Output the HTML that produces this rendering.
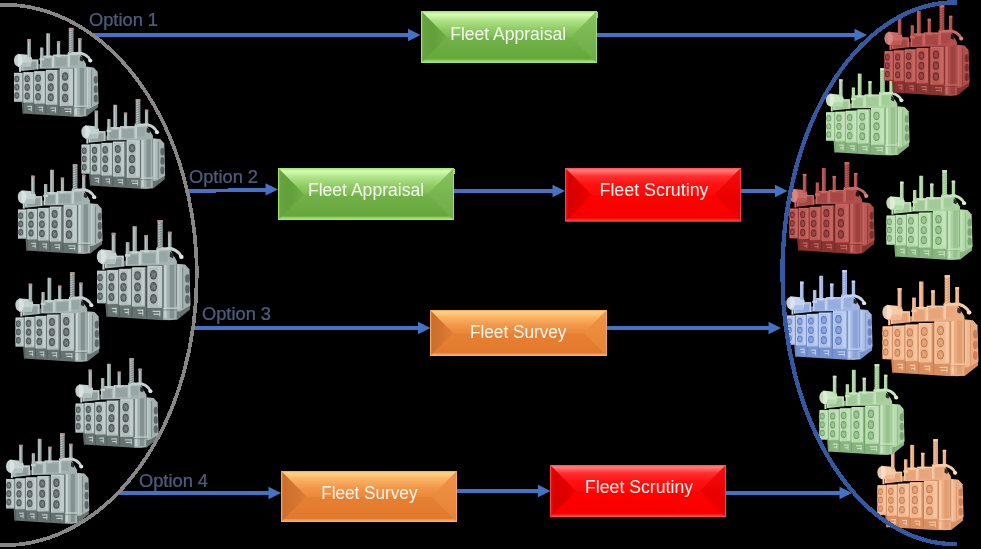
<!DOCTYPE html>
<html><head><meta charset="utf-8"><style>
html,body{margin:0;padding:0;background:#000;width:981px;height:549px;overflow:hidden}
svg{display:block}
.bt{font-family:"Liberation Sans",sans-serif;font-size:17.5px;fill:#F4F8F0}
.ot{font-family:"Liberation Sans",sans-serif;font-size:17.5px;fill:#475A7C;stroke:#6A7EA2;stroke-width:0.2px}
</style></head><body>
<svg width="981" height="549" viewBox="0 0 981 549">
<defs><symbol id="tr" viewBox="0 0 95 101" preserveAspectRatio="none"><polygon points="9,83 67,87 81,86 94,83.5 94,90 81,100.5 67,100.8 10,97" fill="var(--dk)"/>
<rect x="15.3" y="88.4" width="4.9" height="1.2" fill="var(--lt)"/>
<rect x="16.3" y="91.6" width="3.9" height="1.2" fill="var(--lt)"/>
<rect x="19.2" y="88.4" width="1.1" height="6.3" fill="var(--lt)" opacity="0.8"/>
<rect x="27.5" y="89.3" width="5.0" height="1.2" fill="var(--lt)"/>
<rect x="28.5" y="92.4" width="4.0" height="1.2" fill="var(--lt)"/>
<rect x="31.5" y="89.3" width="1.1" height="6.2" fill="var(--lt)" opacity="0.8"/>
<rect x="41" y="90.2" width="6.0" height="1.2" fill="var(--lt)"/>
<rect x="42" y="93.2" width="5.0" height="1.2" fill="var(--lt)"/>
<rect x="46.0" y="90.2" width="1.1" height="6.0" fill="var(--lt)" opacity="0.8"/>
<rect x="56.4" y="91.3" width="7.7" height="1.2" fill="var(--lt)"/>
<rect x="57.4" y="94.2" width="6.7" height="1.2" fill="var(--lt)"/>
<rect x="63.1" y="91.3" width="1.1" height="5.9" fill="var(--lt)" opacity="0.8"/>
<rect x="10.3" y="84" width="1.2" height="14" fill="var(--fo)" opacity="0.7"/>
<rect x="22.299999999999997" y="84" width="1.2" height="14" fill="var(--fo)" opacity="0.7"/>
<rect x="35.3" y="84" width="1.2" height="14" fill="var(--fo)" opacity="0.7"/>
<rect x="49.9" y="84" width="1.2" height="14" fill="var(--fo)" opacity="0.7"/>
<polygon points="80.6,44 89,45 93.5,50 94.5,86 84,92 80.6,92" fill="var(--md)"/>
<polygon points="81.5,45 86,45.5 86,90.5 81.5,90" fill="var(--pn)"/>
<rect x="81.5" y="45" width="1.2" height="45" fill="var(--lt)"/>
<rect x="86.2" y="48" width="1" height="41" fill="var(--dk)" opacity="0.7"/>
<ellipse cx="91.4" cy="59" rx="2.3" ry="4.4" fill="var(--fo)" opacity="0.8"/>
<ellipse cx="91.4" cy="69.5" rx="2.3" ry="4.4" fill="var(--fo)" opacity="0.8"/>
<ellipse cx="91.4" cy="80" rx="2.3" ry="4.4" fill="var(--fo)" opacity="0.8"/>
<polygon points="67,41 80.6,41 80.6,99.5 74,100.8 67,100.3" fill="var(--md)"/>
<rect x="68" y="42" width="2.4" height="57" fill="var(--lt)"/>
<rect x="73.5" y="43" width="4.8" height="56" fill="var(--dk)" opacity="0.5"/>
<rect x="67" y="88" width="13.6" height="1.6" fill="var(--lt)" opacity="0.8"/>
<rect x="67" y="90" width="13.6" height="1" fill="var(--dk)" opacity="0.6"/>
<polygon points="8.7,49 8.7,36.2 27.4,36.2 27.4,47" fill="var(--md)"/>
<polygon points="27.4,47 27.4,41 29.6,41 29.6,46.5" fill="var(--dk)"/>
<polygon points="29.6,46.5 29.6,31.8 43.9,31.8 43.9,30.7 61.5,30.7 61.5,28.5 73.6,28.5 76,33 80.6,41 80.6,45 67,46" fill="var(--md)"/>
<polyline points="9.3,48.5 9.3,36.8 26.8,36.8 26.8,47" fill="none" stroke="var(--lt)" stroke-width="1.3"/>
<polyline points="30.2,46 30.2,32.4 43.3,32.4 43.3,45.5" fill="none" stroke="var(--lt)" stroke-width="1.3"/>
<polyline points="44.5,45 44.5,31.3 60.9,31.3 60.9,44.5" fill="none" stroke="var(--lt)" stroke-width="1.3"/>
<polyline points="62.1,44 62.1,29.1 73,29.1" fill="none" stroke="var(--lt)" stroke-width="1.2"/>
<rect x="11" y="39" width="14" height="7.5" fill="var(--dk)" opacity="0.3"/>
<rect x="32" y="35" width="9.5" height="9.5" fill="var(--dk)" opacity="0.28"/>
<rect x="46.5" y="34" width="12.5" height="9.5" fill="var(--dk)" opacity="0.22"/>
<rect x="63.5" y="32" width="8" height="10" fill="var(--dk)" opacity="0.18"/>
<polygon points="74,32 78.5,35.2 76.5,38.5 73.6,37" fill="#000" opacity="0.75"/>
<polygon points="4.6,29.5 18.7,31 20.5,36 18.7,44.5 4.6,44.5" fill="var(--lt)"/>
<rect x="8" y="39.5" width="10.5" height="5" fill="var(--md)" opacity="0.6"/>
<ellipse cx="5.2" cy="37" rx="4.8" ry="7" fill="var(--hl)" opacity="0.9"/>
<rect x="6" y="44" width="2.2" height="6" fill="var(--lt)"/>
<path d="M61.5,29.6 L74,28.8 Q80,30 83.5,34 L85.5,37.5" fill="none" stroke="var(--lt)" stroke-width="3" stroke-linecap="round" stroke-linejoin="round"/>
<ellipse cx="85.3" cy="37.3" rx="2.3" ry="2.1" fill="var(--hl)"/>
<polygon points="0.6,52 67.2,46 67.2,88.6 0.6,83.7" fill="var(--fo)"/>
<rect x="0.6" y="51" width="10.3" height="32.7" fill="var(--md)"/>
<rect x="1.2" y="51.5" width="8.6" height="31.7" fill="var(--pn)"/>
<rect x="1.2" y="51.5" width="8.6" height="1.2" fill="var(--lt)"/>
<rect x="0.8999999999999999" y="51.5" width="1" height="31.7" fill="var(--lt)"/>
<rect x="9.8" y="51" width="1.1" height="32.7" fill="var(--dk)"/>
<rect x="7.2" y="52.8" width="2.2" height="29.2" fill="var(--lt)" opacity="0.75"/>
<ellipse cx="3.6" cy="58.0" rx="3.2" ry="4.2" fill="var(--rim)"/>
<ellipse cx="3.6" cy="58.0" rx="2.7" ry="3.7" fill="var(--fo)"/>
<ellipse cx="3.6" cy="58.0" rx="2.0" ry="2.9" fill="var(--fan)"/>
<path d="M2.4,56.2 Q4.1,57.7 4.8,59.9 M5.0,56.7 Q3.3,58.4 2.2,59.5" stroke="var(--rim)" stroke-width="0.6" fill="none" opacity="0.8"/>
<ellipse cx="3.6" cy="67.3" rx="3.2" ry="4.2" fill="var(--rim)"/>
<ellipse cx="3.6" cy="67.3" rx="2.7" ry="3.7" fill="var(--fo)"/>
<ellipse cx="3.6" cy="67.3" rx="2.0" ry="2.9" fill="var(--fan)"/>
<path d="M2.4,65.5 Q4.1,67.0 4.8,69.2 M5.0,66.1 Q3.3,67.7 2.2,68.8" stroke="var(--rim)" stroke-width="0.6" fill="none" opacity="0.8"/>
<ellipse cx="3.6" cy="76.7" rx="3.2" ry="4.2" fill="var(--rim)"/>
<ellipse cx="3.6" cy="76.7" rx="2.7" ry="3.7" fill="var(--fo)"/>
<ellipse cx="3.6" cy="76.7" rx="2.0" ry="2.9" fill="var(--fan)"/>
<path d="M2.4,74.8 Q4.1,76.3 4.8,78.5 M5.0,75.4 Q3.3,77.0 2.2,78.1" stroke="var(--rim)" stroke-width="0.6" fill="none" opacity="0.8"/>
<rect x="10.9" y="50.3" width="12.0" height="34.5" fill="var(--md)"/>
<rect x="11.5" y="50.8" width="10.3" height="33.5" fill="var(--pn)"/>
<rect x="11.5" y="50.8" width="10.3" height="1.2" fill="var(--lt)"/>
<rect x="11.200000000000001" y="50.8" width="1" height="33.5" fill="var(--lt)"/>
<rect x="21.8" y="50.3" width="1.1" height="34.5" fill="var(--dk)"/>
<rect x="18.9" y="52.099999999999994" width="2.5" height="31.0" fill="var(--lt)" opacity="0.75"/>
<ellipse cx="15.1" cy="57.7" rx="3.4" ry="4.5" fill="var(--rim)"/>
<ellipse cx="15.1" cy="57.7" rx="2.9" ry="4.0" fill="var(--fo)"/>
<ellipse cx="15.1" cy="57.7" rx="2.2" ry="3.1" fill="var(--fan)"/>
<path d="M13.8,55.7 Q15.7,57.3 16.4,59.7 M16.6,56.3 Q14.8,58.1 13.7,59.3" stroke="var(--rim)" stroke-width="0.6" fill="none" opacity="0.8"/>
<ellipse cx="15.1" cy="67.5" rx="3.4" ry="4.5" fill="var(--rim)"/>
<ellipse cx="15.1" cy="67.5" rx="2.9" ry="4.0" fill="var(--fo)"/>
<ellipse cx="15.1" cy="67.5" rx="2.2" ry="3.1" fill="var(--fan)"/>
<path d="M13.8,65.5 Q15.7,67.1 16.4,69.5 M16.6,66.1 Q14.8,68.0 13.7,69.1" stroke="var(--rim)" stroke-width="0.6" fill="none" opacity="0.8"/>
<ellipse cx="15.1" cy="77.4" rx="3.4" ry="4.5" fill="var(--rim)"/>
<ellipse cx="15.1" cy="77.4" rx="2.9" ry="4.0" fill="var(--fo)"/>
<ellipse cx="15.1" cy="77.4" rx="2.2" ry="3.1" fill="var(--fan)"/>
<path d="M13.8,75.4 Q15.7,77.0 16.4,79.4 M16.6,76.0 Q14.8,77.8 13.7,79.0" stroke="var(--rim)" stroke-width="0.6" fill="none" opacity="0.8"/>
<rect x="22.9" y="49.2" width="13.0" height="36.8" fill="var(--md)"/>
<rect x="23.5" y="49.7" width="11.3" height="35.8" fill="var(--pn)"/>
<rect x="23.5" y="49.7" width="11.3" height="1.2" fill="var(--lt)"/>
<rect x="23.2" y="49.7" width="1" height="35.8" fill="var(--lt)"/>
<rect x="34.8" y="49.2" width="1.1" height="36.8" fill="var(--dk)"/>
<rect x="31.2" y="51.0" width="3.2" height="33.3" fill="var(--lt)" opacity="0.75"/>
<ellipse cx="27.2" cy="57.1" rx="3.6" ry="4.7" fill="var(--rim)"/>
<ellipse cx="27.2" cy="57.1" rx="3.1" ry="4.2" fill="var(--fo)"/>
<ellipse cx="27.2" cy="57.1" rx="2.3" ry="3.3" fill="var(--fan)"/>
<path d="M25.8,55.0 Q27.8,56.7 28.6,59.2 M28.8,55.6 Q26.9,57.5 25.6,58.8" stroke="var(--rim)" stroke-width="0.6" fill="none" opacity="0.8"/>
<ellipse cx="27.2" cy="67.6" rx="3.6" ry="4.7" fill="var(--rim)"/>
<ellipse cx="27.2" cy="67.6" rx="3.1" ry="4.2" fill="var(--fo)"/>
<ellipse cx="27.2" cy="67.6" rx="2.3" ry="3.3" fill="var(--fan)"/>
<path d="M25.8,65.5 Q27.8,67.2 28.6,69.7 M28.8,66.1 Q26.9,68.0 25.6,69.3" stroke="var(--rim)" stroke-width="0.6" fill="none" opacity="0.8"/>
<ellipse cx="27.2" cy="78.1" rx="3.6" ry="4.7" fill="var(--rim)"/>
<ellipse cx="27.2" cy="78.1" rx="3.1" ry="4.2" fill="var(--fo)"/>
<ellipse cx="27.2" cy="78.1" rx="2.3" ry="3.3" fill="var(--fan)"/>
<path d="M25.8,76.0 Q27.8,77.7 28.6,80.2 M28.8,76.6 Q26.9,78.5 25.6,79.8" stroke="var(--rim)" stroke-width="0.6" fill="none" opacity="0.8"/>
<rect x="35.9" y="47.7" width="13.9" height="39.5" fill="var(--md)"/>
<rect x="36.5" y="48.2" width="12.2" height="38.5" fill="var(--pn)"/>
<rect x="36.5" y="48.2" width="12.2" height="1.2" fill="var(--lt)"/>
<rect x="36.199999999999996" y="48.2" width="1" height="38.5" fill="var(--lt)"/>
<rect x="48.7" y="47.7" width="1.1" height="39.5" fill="var(--dk)"/>
<rect x="45.5" y="49.5" width="2.8" height="36.0" fill="var(--lt)" opacity="0.75"/>
<ellipse cx="41.3" cy="56.2" rx="3.8" ry="5.0" fill="var(--rim)"/>
<ellipse cx="41.3" cy="56.2" rx="3.3" ry="4.5" fill="var(--fo)"/>
<ellipse cx="41.3" cy="56.2" rx="2.5" ry="3.5" fill="var(--fan)"/>
<path d="M39.8,53.9 Q42.0,55.7 42.8,58.4 M42.9,54.6 Q41.0,56.6 39.6,58.0" stroke="var(--rim)" stroke-width="0.6" fill="none" opacity="0.8"/>
<ellipse cx="41.3" cy="67.5" rx="3.8" ry="5.0" fill="var(--rim)"/>
<ellipse cx="41.3" cy="67.5" rx="3.3" ry="4.5" fill="var(--fo)"/>
<ellipse cx="41.3" cy="67.5" rx="2.5" ry="3.5" fill="var(--fan)"/>
<path d="M39.8,65.2 Q42.0,67.0 42.8,69.7 M42.9,65.9 Q41.0,67.9 39.6,69.2" stroke="var(--rim)" stroke-width="0.6" fill="none" opacity="0.8"/>
<ellipse cx="41.3" cy="78.7" rx="3.8" ry="5.0" fill="var(--rim)"/>
<ellipse cx="41.3" cy="78.7" rx="3.3" ry="4.5" fill="var(--fo)"/>
<ellipse cx="41.3" cy="78.7" rx="2.5" ry="3.5" fill="var(--fan)"/>
<path d="M39.8,76.5 Q42.0,78.3 42.8,81.0 M42.9,77.1 Q41.0,79.2 39.6,80.5" stroke="var(--rim)" stroke-width="0.6" fill="none" opacity="0.8"/>
<rect x="51.2" y="46" width="16.0" height="42.6" fill="var(--md)"/>
<rect x="51.800000000000004" y="46.5" width="14.3" height="41.6" fill="var(--pn)"/>
<rect x="51.800000000000004" y="46.5" width="14.3" height="1.2" fill="var(--lt)"/>
<rect x="51.5" y="46.5" width="1" height="41.6" fill="var(--lt)"/>
<rect x="66.1" y="46" width="1.1" height="42.6" fill="var(--dk)"/>
<rect x="61.7" y="47.8" width="4.0" height="39.1" fill="var(--lt)" opacity="0.75"/>
<ellipse cx="57.3" cy="55.2" rx="4.0" ry="5.3" fill="var(--rim)"/>
<ellipse cx="57.3" cy="55.2" rx="3.5" ry="4.8" fill="var(--fo)"/>
<ellipse cx="57.3" cy="55.2" rx="2.6" ry="3.7" fill="var(--fan)"/>
<path d="M55.7,52.8 Q58.0,54.7 58.9,57.6 M59.0,53.5 Q56.9,55.6 55.5,57.1" stroke="var(--rim)" stroke-width="0.6" fill="none" opacity="0.8"/>
<ellipse cx="57.3" cy="67.3" rx="4.0" ry="5.3" fill="var(--rim)"/>
<ellipse cx="57.3" cy="67.3" rx="3.5" ry="4.8" fill="var(--fo)"/>
<ellipse cx="57.3" cy="67.3" rx="2.6" ry="3.7" fill="var(--fan)"/>
<path d="M55.7,64.9 Q58.0,66.8 58.9,69.7 M59.0,65.6 Q56.9,67.8 55.5,69.2" stroke="var(--rim)" stroke-width="0.6" fill="none" opacity="0.8"/>
<ellipse cx="57.3" cy="79.4" rx="4.0" ry="5.3" fill="var(--rim)"/>
<ellipse cx="57.3" cy="79.4" rx="3.5" ry="4.8" fill="var(--fo)"/>
<ellipse cx="57.3" cy="79.4" rx="2.6" ry="3.7" fill="var(--fan)"/>
<path d="M55.7,77.0 Q58.0,79.0 58.9,81.8 M59.0,77.8 Q56.9,79.9 55.5,81.4" stroke="var(--rim)" stroke-width="0.6" fill="none" opacity="0.8"/>
<rect x="15.3" y="13.1" width="3.9" height="22.9" fill="var(--bu)"/>
<rect x="15.9" y="13.1" width="1.4" height="22.9" fill="var(--lt)" opacity="0.7"/>
<rect x="14.5" y="33.5" width="5.5" height="2.5" fill="var(--lt)"/>
<rect x="15.3" y="13.1" width="3.9" height="2.2" fill="var(--tip)"/>
<rect x="29.5" y="22.5" width="3.7" height="14.5" fill="var(--bu)"/>
<rect x="30.1" y="22.5" width="1.3" height="14.5" fill="var(--lt)" opacity="0.7"/>
<rect x="28.7" y="34.5" width="5.3" height="2.5" fill="var(--lt)"/>
<rect x="36.3" y="6.5" width="4.3" height="27.5" fill="var(--bu)"/>
<rect x="36.9" y="6.5" width="1.5" height="27.5" fill="var(--lt)" opacity="0.7"/>
<rect x="35.5" y="31.5" width="5.9" height="2.5" fill="var(--lt)"/>
<rect x="48.2" y="15.3" width="3.6" height="17.7" fill="var(--bu)"/>
<rect x="48.7" y="15.3" width="1.3" height="17.7" fill="var(--lt)" opacity="0.7"/>
<rect x="47.4" y="30.5" width="5.2" height="2.5" fill="var(--lt)"/>
<rect x="48.2" y="15.3" width="3.6" height="2.2" fill="var(--tip)"/>
<rect x="61.4" y="0.2" width="5.2" height="29.8" fill="var(--bu)"/>
<rect x="62.2" y="0.2" width="1.8" height="29.8" fill="var(--lt)" opacity="0.7"/>
<rect x="60.6" y="27.5" width="6.8" height="2.5" fill="var(--lt)"/>
<path d="M61.4,5.2 L66.6,3.2" stroke="var(--dk)" stroke-width="0.9" opacity="0.8"/>
<path d="M61.4,7.8 L66.6,5.8" stroke="var(--dk)" stroke-width="0.9" opacity="0.8"/>
<path d="M61.4,10.4 L66.6,8.4" stroke="var(--dk)" stroke-width="0.9" opacity="0.8"/>
<path d="M61.4,13.0 L66.6,11.0" stroke="var(--dk)" stroke-width="0.9" opacity="0.8"/>
<path d="M61.4,15.6 L66.6,13.6" stroke="var(--dk)" stroke-width="0.9" opacity="0.8"/>
<path d="M61.4,18.2 L66.6,16.2" stroke="var(--dk)" stroke-width="0.9" opacity="0.8"/>
<path d="M61.4,20.8 L66.6,18.8" stroke="var(--dk)" stroke-width="0.9" opacity="0.8"/>
<path d="M61.4,23.4 L66.6,21.4" stroke="var(--dk)" stroke-width="0.9" opacity="0.8"/>
<path d="M61.4,26.0 L66.6,24.0" stroke="var(--dk)" stroke-width="0.9" opacity="0.8"/>
<path d="M61.4,28.6 L66.6,26.6" stroke="var(--dk)" stroke-width="0.9" opacity="0.8"/>
<rect x="61.4" y="0.2" width="5.2" height="2.2" fill="var(--tip)"/>
<rect x="71.8" y="12" width="3.7" height="18.0" fill="var(--bu)"/>
<rect x="72.4" y="12" width="1.3" height="18.0" fill="var(--lt)" opacity="0.7"/>
<rect x="71.0" y="27.5" width="5.3" height="2.5" fill="var(--lt)"/>
<rect x="71.8" y="12" width="3.7" height="2.2" fill="var(--tip)"/></symbol><linearGradient id="g421_11t" x1="0" y1="11" x2="0" y2="37.0" gradientUnits="userSpaceOnUse"><stop offset="0" stop-color="#90DE58"/><stop offset="0.06" stop-color="#B8F08A"/><stop offset="0.12" stop-color="#D6FBB6"/><stop offset="0.35" stop-color="#B0E488"/><stop offset="0.7" stop-color="#8FCB62"/><stop offset="1" stop-color="#7DBB52"/></linearGradient><linearGradient id="g421_11b" x1="0" y1="37.0" x2="0" y2="63" gradientUnits="userSpaceOnUse"><stop offset="0" stop-color="#72B24A"/><stop offset="0.85" stop-color="#66A73C"/><stop offset="0.9" stop-color="#8ED460"/><stop offset="1" stop-color="#A8E47A"/></linearGradient><linearGradient id="g421_11l" x1="421" y1="0" x2="447.0" y2="0" gradientUnits="userSpaceOnUse"><stop offset="0" stop-color="#86C45C"/><stop offset="0.1" stop-color="#67A340"/><stop offset="0.5" stop-color="#62A03C"/><stop offset="1" stop-color="#70AD48"/></linearGradient><linearGradient id="g421_11r" x1="0" y1="11" x2="0" y2="63" gradientUnits="userSpaceOnUse"><stop offset="0" stop-color="#88C460"/><stop offset="0.5" stop-color="#78B650"/><stop offset="1" stop-color="#6EAD46"/></linearGradient><linearGradient id="g278_168t" x1="0" y1="168" x2="0" y2="194.0" gradientUnits="userSpaceOnUse"><stop offset="0" stop-color="#90DE58"/><stop offset="0.06" stop-color="#B8F08A"/><stop offset="0.12" stop-color="#D6FBB6"/><stop offset="0.35" stop-color="#B0E488"/><stop offset="0.7" stop-color="#8FCB62"/><stop offset="1" stop-color="#7DBB52"/></linearGradient><linearGradient id="g278_168b" x1="0" y1="194.0" x2="0" y2="220" gradientUnits="userSpaceOnUse"><stop offset="0" stop-color="#72B24A"/><stop offset="0.85" stop-color="#66A73C"/><stop offset="0.9" stop-color="#8ED460"/><stop offset="1" stop-color="#A8E47A"/></linearGradient><linearGradient id="g278_168l" x1="278" y1="0" x2="304.0" y2="0" gradientUnits="userSpaceOnUse"><stop offset="0" stop-color="#86C45C"/><stop offset="0.1" stop-color="#67A340"/><stop offset="0.5" stop-color="#62A03C"/><stop offset="1" stop-color="#70AD48"/></linearGradient><linearGradient id="g278_168r" x1="0" y1="168" x2="0" y2="220" gradientUnits="userSpaceOnUse"><stop offset="0" stop-color="#88C460"/><stop offset="0.5" stop-color="#78B650"/><stop offset="1" stop-color="#6EAD46"/></linearGradient><linearGradient id="g565_168t" x1="0" y1="168" x2="0" y2="194.75" gradientUnits="userSpaceOnUse"><stop offset="0" stop-color="#FF6A6A"/><stop offset="0.1" stop-color="#FF7878"/><stop offset="0.3" stop-color="#FF3030"/><stop offset="0.6" stop-color="#FF1212"/><stop offset="1" stop-color="#FF0808"/></linearGradient><linearGradient id="g565_168b" x1="0" y1="194.75" x2="0" y2="221.5" gradientUnits="userSpaceOnUse"><stop offset="0" stop-color="#FF0000"/><stop offset="0.88" stop-color="#F80000"/><stop offset="0.92" stop-color="#FF2A2A"/><stop offset="1" stop-color="#FF4A4A"/></linearGradient><linearGradient id="g565_168l" x1="565" y1="0" x2="591.75" y2="0" gradientUnits="userSpaceOnUse"><stop offset="0" stop-color="#EC1818"/><stop offset="0.15" stop-color="#D80000"/><stop offset="0.6" stop-color="#E00000"/><stop offset="1" stop-color="#F20000"/></linearGradient><linearGradient id="g565_168r" x1="0" y1="168" x2="0" y2="221.5" gradientUnits="userSpaceOnUse"><stop offset="0" stop-color="#F41010"/><stop offset="0.5" stop-color="#EC0000"/><stop offset="1" stop-color="#E60000"/></linearGradient><linearGradient id="g430_310t" x1="0" y1="310" x2="0" y2="333.0" gradientUnits="userSpaceOnUse"><stop offset="0" stop-color="#F6B060"/><stop offset="0.08" stop-color="#FFD488"/><stop offset="0.3" stop-color="#FBB466"/><stop offset="0.7" stop-color="#F29446"/><stop offset="1" stop-color="#EC883A"/></linearGradient><linearGradient id="g430_310b" x1="0" y1="333.0" x2="0" y2="356" gradientUnits="userSpaceOnUse"><stop offset="0" stop-color="#E88034"/><stop offset="0.86" stop-color="#E27A2E"/><stop offset="0.92" stop-color="#F0A05A"/><stop offset="1" stop-color="#F6B070"/></linearGradient><linearGradient id="g430_310l" x1="430" y1="0" x2="453.0" y2="0" gradientUnits="userSpaceOnUse"><stop offset="0" stop-color="#E08A46"/><stop offset="0.1" stop-color="#CE6E2C"/><stop offset="0.5" stop-color="#D27430"/><stop offset="1" stop-color="#DE7E36"/></linearGradient><linearGradient id="g430_310r" x1="0" y1="310" x2="0" y2="356" gradientUnits="userSpaceOnUse"><stop offset="0" stop-color="#F09448"/><stop offset="0.5" stop-color="#EA8A3C"/><stop offset="1" stop-color="#E58434"/></linearGradient><linearGradient id="g281_471t" x1="0" y1="471" x2="0" y2="496.5" gradientUnits="userSpaceOnUse"><stop offset="0" stop-color="#F6B060"/><stop offset="0.08" stop-color="#FFD488"/><stop offset="0.3" stop-color="#FBB466"/><stop offset="0.7" stop-color="#F29446"/><stop offset="1" stop-color="#EC883A"/></linearGradient><linearGradient id="g281_471b" x1="0" y1="496.5" x2="0" y2="522" gradientUnits="userSpaceOnUse"><stop offset="0" stop-color="#E88034"/><stop offset="0.86" stop-color="#E27A2E"/><stop offset="0.92" stop-color="#F0A05A"/><stop offset="1" stop-color="#F6B070"/></linearGradient><linearGradient id="g281_471l" x1="281" y1="0" x2="306.5" y2="0" gradientUnits="userSpaceOnUse"><stop offset="0" stop-color="#E08A46"/><stop offset="0.1" stop-color="#CE6E2C"/><stop offset="0.5" stop-color="#D27430"/><stop offset="1" stop-color="#DE7E36"/></linearGradient><linearGradient id="g281_471r" x1="0" y1="471" x2="0" y2="522" gradientUnits="userSpaceOnUse"><stop offset="0" stop-color="#F09448"/><stop offset="0.5" stop-color="#EA8A3C"/><stop offset="1" stop-color="#E58434"/></linearGradient><linearGradient id="g550_465t" x1="0" y1="465" x2="0" y2="491.0" gradientUnits="userSpaceOnUse"><stop offset="0" stop-color="#FF6A6A"/><stop offset="0.1" stop-color="#FF7878"/><stop offset="0.3" stop-color="#FF3030"/><stop offset="0.6" stop-color="#FF1212"/><stop offset="1" stop-color="#FF0808"/></linearGradient><linearGradient id="g550_465b" x1="0" y1="491.0" x2="0" y2="517" gradientUnits="userSpaceOnUse"><stop offset="0" stop-color="#FF0000"/><stop offset="0.88" stop-color="#F80000"/><stop offset="0.92" stop-color="#FF2A2A"/><stop offset="1" stop-color="#FF4A4A"/></linearGradient><linearGradient id="g550_465l" x1="550" y1="0" x2="576.0" y2="0" gradientUnits="userSpaceOnUse"><stop offset="0" stop-color="#EC1818"/><stop offset="0.15" stop-color="#D80000"/><stop offset="0.6" stop-color="#E00000"/><stop offset="1" stop-color="#F20000"/></linearGradient><linearGradient id="g550_465r" x1="0" y1="465" x2="0" y2="517" gradientUnits="userSpaceOnUse"><stop offset="0" stop-color="#F41010"/><stop offset="0.5" stop-color="#EC0000"/><stop offset="1" stop-color="#E60000"/></linearGradient><filter id="ga"><feOffset dx="0" dy="0"/></filter></defs>
<rect width="981" height="549" fill="#000"/>
<use href="#tr" x="13.6" y="27.6" width="85.4" height="89.4" style="--hl:#DAE5E3;--lt:#C5D2D0;--md:#A3B2B0;--pn:#B0BEBC;--bu:#9AA9A7;--dk:#65726F;--fo:#4C5455;--fan:#626A6B;--rim:#A8B3B2;--tip:#C08A8C"/>
<use href="#tr" x="81" y="99" width="84.6" height="90.0" style="--hl:#DAE5E3;--lt:#C5D2D0;--md:#A3B2B0;--pn:#B0BEBC;--bu:#9AA9A7;--dk:#65726F;--fo:#4C5455;--fan:#626A6B;--rim:#A8B3B2;--tip:#C08A8C"/>
<use href="#tr" x="17.4" y="164" width="85.6" height="90.0" style="--hl:#DAE5E3;--lt:#C5D2D0;--md:#A3B2B0;--pn:#B0BEBC;--bu:#9AA9A7;--dk:#65726F;--fo:#4C5455;--fan:#626A6B;--rim:#A8B3B2;--tip:#C08A8C"/>
<use href="#tr" x="96.4" y="219.8" width="94.6" height="100.6" style="--hl:#DAE5E3;--lt:#C5D2D0;--md:#A3B2B0;--pn:#B0BEBC;--bu:#9AA9A7;--dk:#65726F;--fo:#4C5455;--fan:#626A6B;--rim:#A8B3B2;--tip:#C08A8C"/>
<use href="#tr" x="15" y="272" width="85.0" height="90.0" style="--hl:#DAE5E3;--lt:#C5D2D0;--md:#A3B2B0;--pn:#B0BEBC;--bu:#9AA9A7;--dk:#65726F;--fo:#4C5455;--fan:#626A6B;--rim:#A8B3B2;--tip:#C08A8C"/>
<use href="#tr" x="75" y="358" width="84.0" height="90.0" style="--hl:#DAE5E3;--lt:#C5D2D0;--md:#A3B2B0;--pn:#B0BEBC;--bu:#9AA9A7;--dk:#65726F;--fo:#4C5455;--fan:#626A6B;--rim:#A8B3B2;--tip:#C08A8C"/>
<use href="#tr" x="5.6" y="433" width="84.2" height="91.0" style="--hl:#DAE5E3;--lt:#C5D2D0;--md:#A3B2B0;--pn:#B0BEBC;--bu:#9AA9A7;--dk:#65726F;--fo:#4C5455;--fan:#626A6B;--rim:#A8B3B2;--tip:#C08A8C"/>
<use href="#tr" x="825.5" y="68" width="84.5" height="87.6" style="--hl:#DAF1D4;--lt:#C8E6C0;--md:#A9D2A0;--pn:#B6DCAE;--bu:#A9D2A0;--dk:#88B380;--fo:#6C9A66;--fan:#92BC8A;--rim:#BCDEB4;--tip:#C8E6C0"/>
<use href="#tr" x="884" y="5" width="86.0" height="91.0" style="--hl:#DC8A86;--lt:#CB6965;--md:#B04E4B;--pn:#BB5A56;--bu:#AC4C49;--dk:#873431;--fo:#6C2826;--fan:#8C3C3A;--rim:#C26260;--tip:#CB6965"/>
<use href="#tr" x="886" y="170" width="87.0" height="90.0" style="--hl:#DAF1D4;--lt:#C8E6C0;--md:#A9D2A0;--pn:#B6DCAE;--bu:#A9D2A0;--dk:#88B380;--fo:#6C9A66;--fan:#92BC8A;--rim:#BCDEB4;--tip:#C8E6C0"/>
<use href="#tr" x="789" y="162" width="86.0" height="92.0" style="--hl:#DC8A86;--lt:#CB6965;--md:#B04E4B;--pn:#BB5A56;--bu:#AC4C49;--dk:#873431;--fo:#6C2826;--fan:#8C3C3A;--rim:#C26260;--tip:#CB6965"/>
<use href="#tr" x="786" y="270" width="87.0" height="90.0" style="--hl:#DAE3F7;--lt:#C6D3F1;--md:#A0B5E2;--pn:#AFC1E8;--bu:#A0B5E2;--dk:#7692D0;--fo:#5B7ABF;--fan:#7F99D2;--rim:#B8C8EC;--tip:#C6D3F1"/>
<use href="#tr" x="882" y="275" width="97.0" height="101.5" style="--hl:#FCDFCA;--lt:#F7CAA8;--md:#ECAC82;--pn:#F1B892;--bu:#ECAC82;--dk:#D88F62;--fo:#C4784A;--fan:#DC9A6E;--rim:#F4C29E;--tip:#F7CAA8"/>
<use href="#tr" x="877" y="439" width="87.0" height="91.5" style="--hl:#FCDFCA;--lt:#F7CAA8;--md:#ECAC82;--pn:#F1B892;--bu:#ECAC82;--dk:#D88F62;--fo:#C4784A;--fan:#DC9A6E;--rim:#F4C29E;--tip:#F7CAA8"/>
<use href="#tr" x="819" y="364" width="86.0" height="91.0" style="--hl:#DAF1D4;--lt:#C8E6C0;--md:#A9D2A0;--pn:#B6DCAE;--bu:#A9D2A0;--dk:#88B380;--fo:#6C9A66;--fan:#92BC8A;--rim:#BCDEB4;--tip:#C8E6C0"/>
<rect x="91" y="33" width="318.0" height="4" fill="#4472C4"/><polygon points="408.0,28.8 420.5,35 408.0,41.2" fill="#4472C4"/>
<rect x="597" y="33" width="258.5" height="4" fill="#4472C4"/><polygon points="854.5,28.8 867,35 854.5,41.2" fill="#4472C4"/>
<rect x="454" y="189" width="99.5" height="4" fill="#4472C4"/><polygon points="552.5,184.8 565,191 552.5,197.2" fill="#4472C4"/>
<rect x="741" y="189" width="35.0" height="4" fill="#4472C4"/><polygon points="775.0,184.8 787.5,191 775.0,197.2" fill="#4472C4"/>
<rect x="192" y="326" width="227.0" height="4" fill="#4472C4"/><polygon points="418.0,321.8 430.5,328 418.0,334.2" fill="#4472C4"/>
<rect x="607" y="326" width="162.5" height="4" fill="#4472C4"/><polygon points="768.5,321.8 781,328 768.5,334.2" fill="#4472C4"/>
<rect x="117" y="491" width="152.5" height="4" fill="#4472C4"/><polygon points="268.5,486.8 281,493 268.5,499.2" fill="#4472C4"/>
<rect x="457" y="489" width="82.0" height="4" fill="#4472C4"/><polygon points="538.0,484.8 550.5,491 538.0,497.2" fill="#4472C4"/>
<rect x="726" y="491" width="114.5" height="4" fill="#4472C4"/><polygon points="839.5,486.8 852,493 839.5,499.2" fill="#4472C4"/>
<rect x="185" y="189" width="31" height="4" fill="#4472C4"/><rect x="216" y="189" width="12" height="3" fill="#4472C4"/><rect x="228" y="188" width="38" height="4" fill="#4472C4"/><polygon points="265.5,183.2 278,189.4 265.5,195.6" fill="#4472C4"/>
<ellipse cx="3.84" cy="274.97" rx="192.95" ry="270.26" fill="none" stroke="#878787" stroke-width="3.7" shape-rendering="crispEdges"/>
<path d="M 957 2.42 A 172.5 270.9 0 1 0 957 544.18" fill="none" stroke="#3558A2" stroke-width="4.3" shape-rendering="crispEdges"/>
<rect x="421" y="11" width="176" height="52" fill="url(#g421_11b)"/><polygon points="421,11 597,11 571.0,37.5 447.0,37.5" fill="url(#g421_11t)"/><polygon points="421,11 447.0,37.0 421,63" fill="url(#g421_11l)"/><polygon points="597,11 571.0,37.0 597,63" fill="url(#g421_11r)"/><rect x="421.5" y="11.5" width="175" height="51" fill="none" stroke="#A8E874" stroke-width="1" opacity="0.8"/>
<text x="450.2" y="40" textLength="116" lengthAdjust="spacingAndGlyphs" class="bt" filter="url(#ga)">Fleet Appraisal</text>
<rect x="278" y="168" width="176" height="52" fill="url(#g278_168b)"/><polygon points="278,168 454,168 428.0,194.5 304.0,194.5" fill="url(#g278_168t)"/><polygon points="278,168 304.0,194.0 278,220" fill="url(#g278_168l)"/><polygon points="454,168 428.0,194.0 454,220" fill="url(#g278_168r)"/><rect x="278.5" y="168.5" width="175" height="51" fill="none" stroke="#A8E874" stroke-width="1" opacity="0.8"/>
<text x="307.9" y="195.6" textLength="116.3" lengthAdjust="spacingAndGlyphs" class="bt" filter="url(#ga)">Fleet Appraisal</text>
<rect x="565" y="168" width="176" height="53.5" fill="url(#g565_168b)"/><polygon points="565,168 741,168 714.25,195.25 591.75,195.25" fill="url(#g565_168t)"/><polygon points="565,168 591.75,194.75 565,221.5" fill="url(#g565_168l)"/><polygon points="741,168 714.25,194.75 741,221.5" fill="url(#g565_168r)"/><rect x="565.5" y="168.5" width="175" height="52.5" fill="none" stroke="#FF5050" stroke-width="1" opacity="0.8"/>
<text x="599.5" y="195.6" textLength="109" lengthAdjust="spacingAndGlyphs" class="bt" filter="url(#ga)">Fleet Scrutiny</text>
<rect x="430" y="310" width="177" height="46" fill="url(#g430_310b)"/><polygon points="430,310 607,310 584.0,333.5 453.0,333.5" fill="url(#g430_310t)"/><polygon points="430,310 453.0,333.0 430,356" fill="url(#g430_310l)"/><polygon points="607,310 584.0,333.0 607,356" fill="url(#g430_310r)"/><rect x="430.5" y="310.5" width="176" height="45" fill="none" stroke="#F7B06A" stroke-width="1" opacity="0.8"/>
<text x="470.0" y="337.7" textLength="96.4" lengthAdjust="spacingAndGlyphs" class="bt" filter="url(#ga)">Fleet Survey</text>
<rect x="281" y="471" width="176" height="51" fill="url(#g281_471b)"/><polygon points="281,471 457,471 431.5,497.0 306.5,497.0" fill="url(#g281_471t)"/><polygon points="281,471 306.5,496.5 281,522" fill="url(#g281_471l)"/><polygon points="457,471 431.5,496.5 457,522" fill="url(#g281_471r)"/><rect x="281.5" y="471.5" width="175" height="50" fill="none" stroke="#F7B06A" stroke-width="1" opacity="0.8"/>
<text x="321.2" y="499.1" textLength="96.3" lengthAdjust="spacingAndGlyphs" class="bt" filter="url(#ga)">Fleet Survey</text>
<rect x="550" y="465" width="176" height="52" fill="url(#g550_465b)"/><polygon points="550,465 726,465 700.0,491.5 576.0,491.5" fill="url(#g550_465t)"/><polygon points="550,465 576.0,491.0 550,517" fill="url(#g550_465l)"/><polygon points="726,465 700.0,491.0 726,517" fill="url(#g550_465r)"/><rect x="550.5" y="465.5" width="175" height="51" fill="none" stroke="#FF5050" stroke-width="1" opacity="0.8"/>
<text x="585.0" y="493.4" textLength="108.1" lengthAdjust="spacingAndGlyphs" class="bt" filter="url(#ga)">Fleet Scrutiny</text>
<rect x="597" y="12" width="1" height="6" fill="#C8C020"/><rect x="454" y="169" width="1" height="5" fill="#D8D020"/>
<text x="89" y="26.4" textLength="69" lengthAdjust="spacingAndGlyphs" class="ot" filter="url(#ga)">Option 1</text>
<text x="189" y="182.9" textLength="69" lengthAdjust="spacingAndGlyphs" class="ot" filter="url(#ga)">Option 2</text>
<text x="202" y="320" textLength="69" lengthAdjust="spacingAndGlyphs" class="ot" filter="url(#ga)">Option 3</text>
<text x="139" y="487" textLength="69" lengthAdjust="spacingAndGlyphs" class="ot" filter="url(#ga)">Option 4</text>
</svg></body></html>
